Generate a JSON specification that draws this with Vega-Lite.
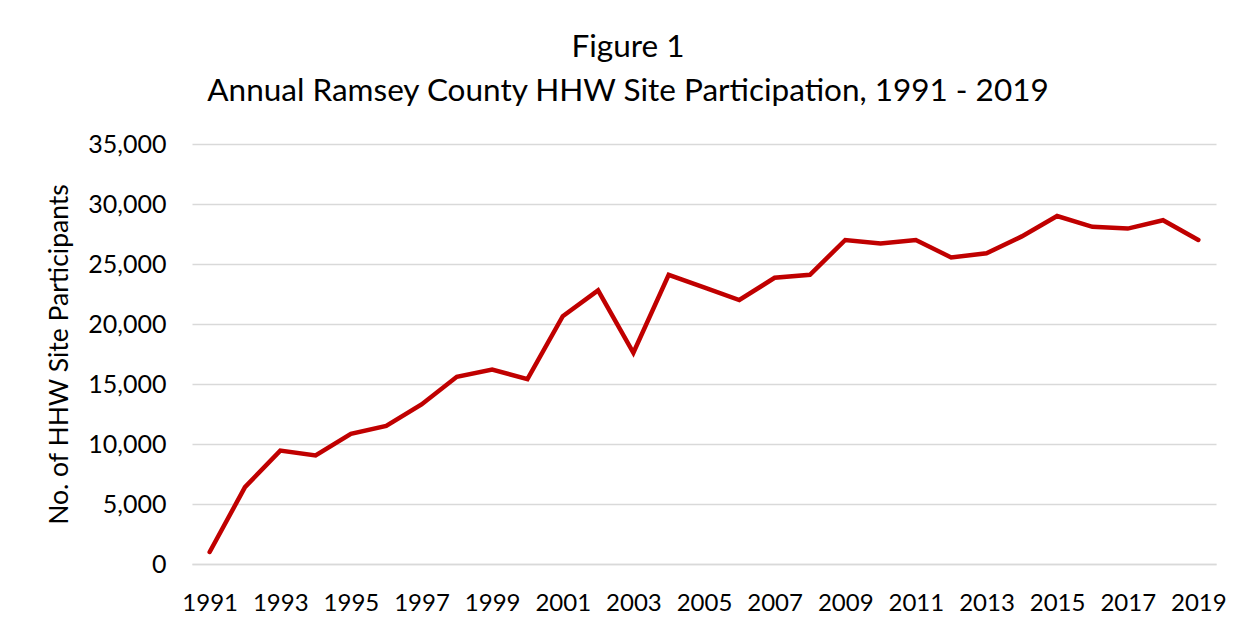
{
  "$schema": "https://vega.github.io/schema/vega-lite/v6.json",
  "autosize": "none",
  "width": 1024,
  "height": 420,
  "padding": {"left": 192, "top": 144, "right": 36, "bottom": 68},
  "background": "white",
  "title": {
    "text": ["Figure 1", "Annual Ramsey County HHW Site Participation, 1991 - 2019"],
    "font": "Lato",
    "fontSize": 31.5,
    "fontWeight": "normal",
    "color": "#000000",
    "lineHeight": 44,
    "anchor": "middle",
    "dx": -76,
    "offset": 25
  },
  "data": {
    "values": [
      {"year": 1991, "participants": 1000},
      {"year": 1992, "participants": 6400},
      {"year": 1993, "participants": 9450},
      {"year": 1994, "participants": 9050},
      {"year": 1995, "participants": 10850},
      {"year": 1996, "participants": 11500},
      {"year": 1997, "participants": 13300},
      {"year": 1998, "participants": 15600},
      {"year": 1999, "participants": 16200},
      {"year": 2000, "participants": 15400},
      {"year": 2001, "participants": 20650},
      {"year": 2002, "participants": 22800},
      {"year": 2003, "participants": 17600},
      {"year": 2004, "participants": 24100},
      {"year": 2005, "participants": 23050},
      {"year": 2006, "participants": 22000},
      {"year": 2007, "participants": 23850},
      {"year": 2008, "participants": 24100},
      {"year": 2009, "participants": 27000},
      {"year": 2010, "participants": 26700},
      {"year": 2011, "participants": 27000},
      {"year": 2012, "participants": 25550},
      {"year": 2013, "participants": 25900},
      {"year": 2014, "participants": 27300},
      {"year": 2015, "participants": 29000},
      {"year": 2016, "participants": 28100},
      {"year": 2017, "participants": 27950},
      {"year": 2018, "participants": 28650},
      {"year": 2019, "participants": 27000}
    ]
  },
  "mark": {"type": "line", "color": "#C00000", "strokeWidth": 4.5, "strokeCap": "round", "strokeJoin": "miter"},
  "encoding": {
    "x": {
      "field": "year",
      "type": "ordinal",
      "scale": {"type": "point", "padding": 0.5},
      "axis": {
        "values": [1991, 1993, 1995, 1997, 1999, 2001, 2003, 2005, 2007, 2009, 2011, 2013, 2015, 2017, 2019],
        "labelAngle": 0,
        "title": null,
        "ticks": false,
        "domain": true,
        "domainColor": "#d9d9d9",
        "domainWidth": 1.5,
        "grid": false,
        "labelFont": "Lato",
        "labelFontSize": 24,
        "labelColor": "#000000",
        "labelPadding": 27
      }
    },
    "y": {
      "field": "participants",
      "type": "quantitative",
      "scale": {"domain": [0, 35000], "nice": false},
      "axis": {
        "values": [0, 5000, 10000, 15000, 20000, 25000, 30000, 35000],
        "format": ",d",
        "title": "No. of HHW Site Participants",
        "titleFont": "Lato",
        "titleFontSize": 26.5,
        "titleFontWeight": "normal",
        "titleColor": "#000000",
        "titlePadding": 14,
        "labelFont": "Lato",
        "labelFontSize": 25,
        "labelColor": "#000000",
        "labelPadding": 26,
        "ticks": false,
        "domain": false,
        "grid": true,
        "gridColor": "#d9d9d9",
        "gridWidth": 1.5
      }
    }
  },
  "config": {"view": {"stroke": null}}
}
